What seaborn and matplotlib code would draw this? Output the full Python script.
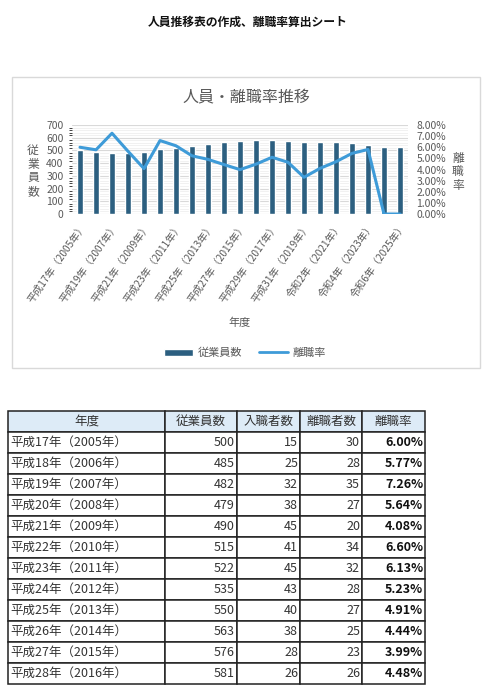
import numpy as np
import pandas as pd
import matplotlib
matplotlib.use('Agg')
import matplotlib.pyplot as plt
import seaborn as sns
from matplotlib.patches import Patch, Rectangle
from matplotlib.lines import Line2D
from matplotlib.ticker import MultipleLocator, PercentFormatter

# data (2017 onwards)
years = list(range(2005, 2026))
era = ['平成17年', '平成18年', '平成19年', '平成20年', '平成21年', '平成22年', '平成23年',
       '平成24年', '平成25年', '平成26年', '平成27年', '平成28年', '平成29年', '平成30年',
       '平成31年', '令和元年', '令和2年', '令和3年', '令和4年', '令和5年', '令和6年']
employees = [500, 485, 482, 479, 490, 515, 522, 535, 550, 563, 576, 581,
             583, 575, 570, 570, 570, 556, 543, 530, 530]
rates = [6.00, 5.77, 7.26, 5.64, 4.08, 6.60, 6.13, 5.23, 4.91, 4.44, 3.99, 4.48,
         5.10, 4.65, 3.30, 4.10, 4.70, 5.45, 5.80, 0.0, 0.0]
# table part (first 12 years)
hires = [15, 25, 32, 38, 45, 41, 45, 43, 40, 38, 28, 26]
leavers = [30, 28, 35, 27, 20, 34, 32, 28, 27, 25, 23, 26]
n_table = 12

labels = [f'{e}（{y}年）' for e, y in zip(era, years)]

sns.set_style('white')
plt.rcParams['font.family'] = ['Noto Sans CJK JP', 'DejaVu Sans']

W, H = 492, 698
fig = plt.figure(figsize=(W / 100, H / 100), dpi=100)

def box(x0, y0, x1, y1):
    return [x0 / W, 1 - y1 / H, (x1 - x0) / W, (y1 - y0) / H]

gray = '#595959'
bar_color = '#2C5F80'
line_color = '#3E9BD8'

fig.text(248 / W, 1 - 22 / H, '人員推移表の作成、離職率算出シート', ha='center', va='center',
         fontsize=8.5, fontweight='bold', color='#111111')

# chart frame
fig.patches.append(Rectangle((12 / W, 1 - 368 / H), 468 / W, 291 / H, transform=fig.transFigure,
                             fill=False, edgecolor='#D9D9D9', linewidth=1))
fig.text(246 / W, 1 - 97 / H, '人員・離職率推移', ha='center', va='center', fontsize=11.5, color=gray)

ax = fig.add_axes(box(72, 125, 408, 214))
df = pd.DataFrame({'年度': labels, '従業員数': employees, '離職率': rates})
sns.barplot(data=df, x='年度', y='従業員数', color=bar_color, width=0.38, saturation=1, ax=ax, zorder=2)
ax.set_ylim(0, 700)
ax.set_xlim(-0.5, len(years) - 0.5)
ax.yaxis.set_major_locator(MultipleLocator(100))
ax.yaxis.set_minor_locator(MultipleLocator(20))
ax.grid(axis='y', which='major', color='#D9D9D9', linewidth=0.8, zorder=0)
ax.grid(axis='y', which='minor', color='#EFEFEF', linewidth=0.6, zorder=0)
ax.set_axisbelow(True)
for s in ax.spines.values():
    s.set_visible(False)
ax.set_xticks(range(0, len(years), 2))
ax.set_xticklabels(labels[::2], rotation=55, ha='right', rotation_mode='anchor', fontsize=7.3, color=gray)
ax.tick_params(axis='x', length=0, pad=5)
ax.tick_params(axis='y', length=0, labelsize=7.5, labelcolor=gray, pad=6)
ax.set_xlabel('年度', fontsize=8, color=gray, labelpad=10)
ax.set_ylabel('')

# stacked axis titles
fig.text(33 / W, 1 - 171 / H, '\n'.join('従業員数'), ha='center', va='center', fontsize=8.5,
         color=gray, linespacing=1.05)
fig.text(458 / W, 1 - 172 / H, '\n'.join('離職率'), ha='center', va='center', fontsize=8.5,
         color=gray, linespacing=1.05)

ax2 = ax.twinx()
sns.lineplot(x=np.arange(len(years)), y=rates, color=line_color, linewidth=2.2, ax=ax2)
ax2.set_ylim(0, 8)
ax2.yaxis.set_major_locator(MultipleLocator(1))
ax2.yaxis.set_major_formatter(PercentFormatter(decimals=2))
ax2.tick_params(axis='y', length=0, labelsize=7.5, labelcolor=gray, pad=6)
ax2.grid(False)
ax2.set_ylabel('')
for s in ax2.spines.values():
    s.set_visible(False)

handles = [Patch(facecolor=bar_color), Line2D([], [], color=line_color, linewidth=2)]
fig.legend(handles, ['従業員数', '離職率'], loc='center', bbox_to_anchor=(245 / W, 1 - 353 / H),
           ncol=2, frameon=False, fontsize=8, labelcolor=gray, handlelength=2.6, handleheight=0.6,
           columnspacing=1.5, handletextpad=0.4)

# table
tax = fig.add_axes(box(8, 411, 425, 684))
tax.axis('off')
rows = []
for i in range(n_table):
    rows.append([labels[i], f'{employees[i]}', f'{hires[i]}', f'{leavers[i]}',
                 f'{leavers[i] / employees[i] * 100:.2f}%'])
cols = ['年度', '従業員数', '入職者数', '離職者数', '離職率']
widths = np.array([157, 72, 63, 62, 63]) / 417
tbl = tax.table(cellText=rows, colLabels=cols, colWidths=widths, cellLoc='right', colLoc='center',
                bbox=[0, 0, 1, 1])
tbl.auto_set_font_size(False)
tbl.set_fontsize(9)
for (r, c), cell in tbl.get_celld().items():
    cell.set_edgecolor('#222222')
    cell.set_linewidth(1.1)
    cell.PAD = 0.03
    txt = cell.get_text()
    txt.set_color('#333333')
    if r == 0:
        cell.set_facecolor('#DDEBF7')
    else:
        if c == 0:
            cell._loc = 'left'
            txt.set_horizontalalignment('left')
            cell.PAD = 0.012
        if c == 4:
            txt.set_fontweight('bold')
            txt.set_color('#111111')

fig.savefig('out.png', dpi=100)
